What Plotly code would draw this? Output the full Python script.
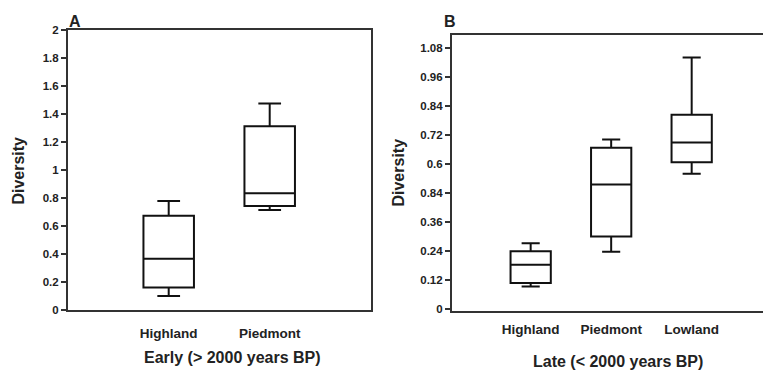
import plotly.graph_objects as go

# ---- data ----
early_regions = ["Highland", "Piedmont"]
early_low = [0.10, 0.715]
early_q1 = [0.161, 0.743]
early_median = [0.367, 0.835]
early_q3 = [0.673, 1.313]
early_high = [0.78, 1.476]

late_regions = ["Highland", "Piedmont", "Lowland"]
late_low = [0.094, 0.238, 0.56]
late_q1 = [0.109, 0.301, 0.608]
late_median = [0.184, 0.516, 0.689]
late_q3 = [0.24, 0.667, 0.804]
late_high = [0.273, 0.702, 1.04]

early_ticks = [0, 0.2, 0.4, 0.6, 0.8, 1.0, 1.2, 1.4, 1.6, 1.8, 2.0]
early_ticktext = ["0", "0.2", "0.4", "0.6", "0.8", "1", "1.2", "1.4", "1.6", "1.8", "2"]
late_ticks = [0, 0.12, 0.24, 0.36, 0.48, 0.6, 0.72, 0.84, 0.96, 1.08]
late_ticktext = ["0", "0.12", "0.24", "0.36", "0.84", "0.6", "0.72", "0.84", "0.96", "1.08"]

W, H = 763, 377
TXT = "#222222"
LINE = "#333333"
FONT = "Liberation Sans"

fig = go.Figure()

def add_boxes(regions, low, q1, med, q3, high, xa, ya):
    for i, name in enumerate(regions):
        fig.add_trace(go.Box(
            x=[i], q1=[q1[i]], median=[med[i]], q3=[q3[i]],
            lowerfence=[low[i]], upperfence=[high[i]],
            width=0.5, whiskerwidth=0.45, boxpoints=False,
            fillcolor="white", line=dict(color="#111111", width=2),
            name=name, showlegend=False, xaxis=xa, yaxis=ya,
        ))

add_boxes(early_regions, early_low, early_q1, early_median, early_q3, early_high, "x", "y")
add_boxes(late_regions, late_low, late_q1, late_median, late_q3, late_high, "x2", "y2")

def px_x(p):
    return p / W

def px_y(p):
    return 1 - p / H

tickfont = dict(family=FONT, size=11.5, color=TXT, weight=700)
catfont = dict(family=FONT, size=13.5, color=TXT, weight=700)

fig.update_layout(
    width=W, height=H,
    margin=dict(l=0, r=0, t=0, b=0),
    paper_bgcolor="white", plot_bgcolor="white",
    font=dict(family=FONT, color=TXT),
    xaxis=dict(domain=[px_x(67.7), px_x(370.7)], range=[-1, 2],
               tickvals=list(range(len(early_regions))), ticktext=early_regions,
               showline=True, linecolor=LINE, linewidth=1.5, mirror=True,
               ticks="outside", ticklen=10, tickcolor="rgba(0,0,0,0)",
               tickfont=catfont, showgrid=False, zeroline=False, anchor="y"),
    yaxis=dict(domain=[px_y(314), px_y(25)], range=[0, 2],
               tickvals=early_ticks, ticktext=early_ticktext,
               showline=True, linecolor=LINE, linewidth=1.5, mirror=True,
               ticks="outside", ticklen=5, tickwidth=1.5, tickcolor=LINE,
               tickfont=tickfont, showgrid=False, zeroline=False, anchor="x"),
    xaxis2=dict(domain=[px_x(451.7), 1], range=[-0.981, 2.886],
                tickvals=list(range(len(late_regions))), ticktext=late_regions,
                showline=True, linecolor=LINE, linewidth=1.5, mirror=True,
                ticks="outside", ticklen=5, tickcolor="rgba(0,0,0,0)",
                tickfont=catfont, showgrid=False, zeroline=False, anchor="y2"),
    yaxis2=dict(domain=[px_y(315), px_y(29.5)], range=[-0.0068, 1.135],
                tickvals=late_ticks, ticktext=late_ticktext,
                showline=True, linecolor=LINE, linewidth=1.5, mirror=False,
                ticks="outside", ticklen=5, tickwidth=1.5, tickcolor=LINE,
                tickfont=tickfont, showgrid=False, zeroline=False, anchor="x2"),
)

def ann(text, x, y, size, angle=0):
    fig.add_annotation(text=text, x=px_x(x), y=px_y(y), xref="paper", yref="paper",
                       showarrow=False, textangle=angle, xanchor="center", yanchor="middle",
                       font=dict(family=FONT, size=size, color=TXT, weight=700))

ann("A", 75, 16, 16)
ann("B", 450, 16, 16)
ann("Diversity", 19, 170, 16, -90)
ann("Diversity", 399, 172, 16, -90)
ann("Early (&gt; 2000 years BP)", 232, 363, 16)
ann("Late (&lt; 2000 years BP)", 618, 367, 16)

fig.write_html("out.html")
